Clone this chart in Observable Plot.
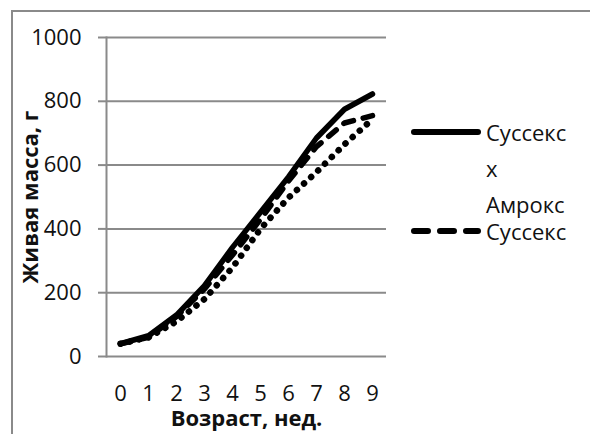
<!DOCTYPE html>
<html>
<head>
<meta charset="utf-8">
<script src="https://cdn.jsdelivr.net/npm/d3@7"></script>
<script src="https://cdn.jsdelivr.net/npm/@observablehq/plot@0.6"></script>
<style>
  html, body { margin: 0; padding: 0; background: #fff; }
  #wrap { position: relative; width: 590px; height: 434px; overflow: hidden; font-family: "Open Sans", sans-serif; }
  #border { position: absolute; left: 11px; top: 10px; width: 600px; height: 440px; border-top: 2px solid #8a8a8a; border-left: 2px solid #8a8a8a; box-sizing: border-box; }
  #chart { position: absolute; left: 0; top: 0; }
  #legend { position: absolute; left: 410px; top: 112px; font-size: 22px; color: #111; }
  .item { position: absolute; white-space: nowrap; }
</style>
</head>
<body>
<div id="wrap">
  <div id="border"></div>
  <div id="chart"></div>
  <div id="legend"></div>
</div>
<script>
const weeks = [0, 1, 2, 3, 4, 5, 6, 7, 8, 9];
const sussexAmrox = [40, 65, 130, 222, 342, 452, 563, 685, 775, 823];
const sussex = [40, 60, 125, 212, 318, 430, 550, 658, 732, 755];
const third = [40, 60, 110, 180, 279, 400, 498, 578, 665, 744];
const yTicks = [0, 200, 400, 600, 800, 1000];
const seriesNames = ["Суссекс х Амрокс", "Суссекс", ""];
const xLabel = "Возраст, нед.";
const yLabel = "Живая масса, г";

const rows = (vals, name) => weeks.map((w, i) => ({week: w, mass: vals[i], series: name}));
const dataA = rows(sussexAmrox, seriesNames[0]);
const dataB = rows(sussex, seriesNames[1]);
const dataC = rows(third, seriesNames[2]);

const grid = "#8a8a8a";

const plot = Plot.plot({
  width: 590,
  height: 434,
  marginLeft: 106,
  marginRight: 204,
  marginTop: 37,
  marginBottom: 78,
  style: {fontFamily: "Open Sans, sans-serif", fontSize: "22px", color: "#111", background: "transparent", overflow: "visible"},
  x: {type: "point", domain: weeks, padding: 0.5, align: 0.5},
  y: {domain: [0, 1000]},
  marks: [
    Plot.ruleY(yTicks, {stroke: grid, strokeWidth: 2, strokeOpacity: 1}),
    Plot.frame({anchor: "left", stroke: grid, strokeWidth: 2}),
    Plot.axisY({ticks: yTicks, tickFormat: d => String(d), tickSize: 8, tickPadding: 17, stroke: grid, strokeWidth: 2, strokeOpacity: 1,
      label: yLabel, labelArrow: "none", labelAnchor: "center", labelOffset: 84, fontSize: 22}),
    Plot.axisX({tickSize: 0, tickPadding: 29, label: xLabel, labelArrow: "none", labelAnchor: "center", labelOffset: 69, fontSize: 22}),
    Plot.lineY(dataC, {x: "week", y: "mass", stroke: "#000", strokeWidth: 6.5, strokeDasharray: "0.1 9.5", strokeLinecap: "round"}),
    Plot.lineY(dataB, {x: "week", y: "mass", stroke: "#000", strokeWidth: 5.5, strokeDasharray: "10 10", strokeLinecap: "round"}),
    Plot.lineY(dataA, {x: "week", y: "mass", stroke: "#000", strokeWidth: 5.5, strokeLinecap: "round"})
  ]
});
document.getElementById("chart").appendChild(plot);

// bold axis titles
d3.select(plot).selectAll("g[aria-label='y-axis label'] text, g[aria-label='x-axis label'] text")
  .attr("font-weight", "bold");

// legend
const legend = document.getElementById("legend");
const entries = [
  {lines: ["Суссекс", "х", "Амрокс"], dash: null, top: 0},
  {lines: ["Суссекс"], dash: "14 12", top: 99}
];
entries.forEach(e => {
  const sw = document.createElementNS("http://www.w3.org/2000/svg", "svg");
  sw.setAttribute("width", 76); sw.setAttribute("height", 12);
  sw.style.position = "absolute"; sw.style.left = "0px"; sw.style.top = (e.top + 14) + "px";
  const ln = document.createElementNS("http://www.w3.org/2000/svg", "line");
  ln.setAttribute("x1", 4); ln.setAttribute("x2", 68); ln.setAttribute("y1", 6); ln.setAttribute("y2", 6);
  ln.setAttribute("stroke", "#000"); ln.setAttribute("stroke-width", 6); ln.setAttribute("stroke-linecap", "round");
  if (e.dash) ln.setAttribute("stroke-dasharray", e.dash);
  sw.appendChild(ln);
  legend.appendChild(sw);
  e.lines.forEach((t, k) => {
    const d = document.createElement("div");
    d.className = "item";
    d.style.left = "76px";
    d.style.top = (e.top + k * 36) + "px";
    d.style.lineHeight = "40px";
    d.textContent = t;
    legend.appendChild(d);
  });
});
</script>
</body>
</html>
